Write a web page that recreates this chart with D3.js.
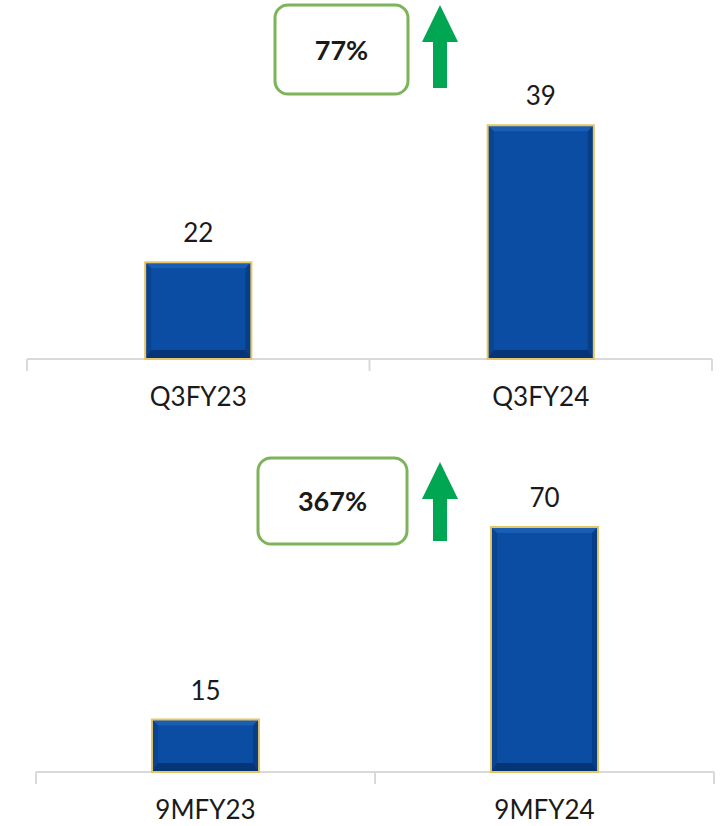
<!DOCTYPE html>
<html>
<head>
<meta charset="utf-8">
<script src="https://cdn.jsdelivr.net/npm/d3@7"></script>
<style>
  html, body { margin: 0; padding: 0; background: #ffffff; }
  svg { display: block; }
</style>
</head>
<body>
<svg id="chart" width="723" height="826"></svg>
<script>
// Quarterly comparison (top panel)
const quarterCategories = ["Q3FY23", "Q3FY24"];
const quarterValues = [22, 39];
const quarterGrowth = "77%";

// Nine-month comparison (bottom panel)
const nineMonthCategories = ["9MFY23", "9MFY24"];
const nineMonthValues = [15, 70];
const nineMonthGrowth = "367%";

const svg = d3.select("#chart");

const FONT = "Lato, 'Open Sans', 'Liberation Sans', sans-serif";
const colors = {
  face: "#0B4DA2",
  top: "#1A5DB4",
  left: "#0A4390",
  right: "#083E86",
  bottom: "#053477",
  outline: "#E6C567",
  axis: "#D9D9D9",
  text: "#1a1a1a",
  boxStroke: "#7DB35A",
  arrow: "#00A651"
};

function drawPanel(cfg) {
  const g = svg.append("g");

  const x = d3.scaleBand()
    .domain(cfg.categories)
    .range([cfg.x0, cfg.x1])
    .paddingInner(cfg.padding)
    .paddingOuter(cfg.padding / 2);

  const y = d3.scaleLinear()
    .domain(cfg.yDomain)
    .range([cfg.baseline, cfg.baseline - (cfg.yDomain[1] - cfg.yDomain[0]) * cfg.pxPerUnit]);

  // category axis: baseline with boundary ticks hanging below
  const axis = d3.axisBottom(x).tickSize(0).tickFormat(d => d);
  const axisG = g.append("g")
    .attr("transform", `translate(0,${cfg.baseline})`)
    .call(axis);
  axisG.select(".domain").remove();
  axisG.selectAll("text")
    .attr("font-family", FONT)
    .attr("font-size", 26)
    .attr("fill", colors.text)
    .attr("dy", null)
    .attr("y", 47);

  g.append("line")
    .attr("x1", cfg.x0).attr("x2", cfg.x1)
    .attr("y1", cfg.baseline).attr("y2", cfg.baseline)
    .attr("stroke", colors.axis).attr("stroke-width", 2);

  const step = x.step();
  const boundaries = [cfg.x0, cfg.x0 + step, cfg.x1];
  g.selectAll(".bnd").data(boundaries).enter().append("line")
    .attr("x1", d => d).attr("x2", d => d)
    .attr("y1", cfg.baseline).attr("y2", cfg.baseline + 12)
    .attr("stroke", colors.axis).attr("stroke-width", 2);

  // bevelled bars
  const data = cfg.categories.map((c, i) => ({ c, v: cfg.values[i] }));
  const bars = g.selectAll(".bar").data(data).enter().append("g");

  bars.each(function(d) {
    const bg = d3.select(this);
    const x0 = x(d.c), x1 = x0 + x.bandwidth();
    const y0 = y(d.v), y1 = y(cfg.yDomain[0]);
    const b = 6, bb = 9;
    bg.append("rect")
      .attr("x", x0).attr("y", y0)
      .attr("width", x1 - x0).attr("height", y1 - y0)
      .attr("fill", colors.face);
    const poly = pts => pts.map(p => p.join(",")).join(" ");
    bg.append("polygon").attr("fill", colors.top)
      .attr("points", poly([[x0, y0], [x1, y0], [x1 - b, y0 + b], [x0 + b, y0 + b]]));
    bg.append("polygon").attr("fill", colors.left)
      .attr("points", poly([[x0, y0], [x0 + b, y0 + b], [x0 + b, y1 - bb], [x0, y1]]));
    bg.append("polygon").attr("fill", colors.right)
      .attr("points", poly([[x1, y0], [x1 - b, y0 + b], [x1 - b, y1 - bb], [x1, y1]]));
    bg.append("polygon").attr("fill", colors.bottom)
      .attr("points", poly([[x0, y1], [x1, y1], [x1 - b, y1 - bb], [x0 + b, y1 - bb]]));
    bg.append("rect")
      .attr("x", x0).attr("y", y0)
      .attr("width", x1 - x0).attr("height", y1 - y0)
      .attr("fill", "none")
      .attr("stroke", colors.outline).attr("stroke-width", 2);

    bg.append("text")
      .attr("x", x0 + x.bandwidth() / 2)
      .attr("y", y0 - 20)
      .attr("text-anchor", "middle")
      .attr("font-family", FONT)
      .attr("font-size", 26)
      .attr("fill", colors.text)
      .text(d.v);
  });

  // growth callout box
  const bx = cfg.box;
  g.append("rect")
    .attr("x", bx.x).attr("y", bx.y)
    .attr("width", bx.w).attr("height", bx.h)
    .attr("rx", 13).attr("ry", 13)
    .attr("fill", "#ffffff")
    .attr("stroke", colors.boxStroke).attr("stroke-width", 3);
  g.append("text")
    .attr("x", bx.x + bx.w / 2)
    .attr("y", bx.y + bx.h / 2 + 10)
    .attr("text-anchor", "middle")
    .attr("font-family", FONT)
    .attr("font-weight", 700)
    .attr("font-size", 27)
    .attr("fill", colors.text)
    .text(cfg.growth);

  // upward arrow
  const a = cfg.arrow;
  const hw = 18, sw = 7, headH = 37;
  g.append("polygon")
    .attr("fill", colors.arrow)
    .attr("points", [
      [a.cx, a.top],
      [a.cx + hw, a.top + headH],
      [a.cx + sw, a.top + headH],
      [a.cx + sw, a.bottom],
      [a.cx - sw, a.bottom],
      [a.cx - sw, a.top + headH],
      [a.cx - hw, a.top + headH]
    ].map(p => p.join(",")).join(" "));
}

drawPanel({
  categories: quarterCategories,
  values: quarterValues,
  growth: quarterGrowth,
  x0: 27, x1: 712,
  padding: 0.69,
  baseline: 359,
  yDomain: [10, 45],
  pxPerUnit: 8.06,
  box: { x: 275, y: 5, w: 133, h: 89 },
  arrow: { cx: 440, top: 5, bottom: 88 }
});

drawPanel({
  categories: nineMonthCategories,
  values: nineMonthValues,
  growth: nineMonthGrowth,
  x0: 36, x1: 714,
  padding: 0.684,
  baseline: 772,
  yDomain: [0, 80],
  pxPerUnit: 3.5,
  box: { x: 258, y: 458, w: 149, h: 86 },
  arrow: { cx: 440, top: 462, bottom: 541 }
});
</script>
</body>
</html>
